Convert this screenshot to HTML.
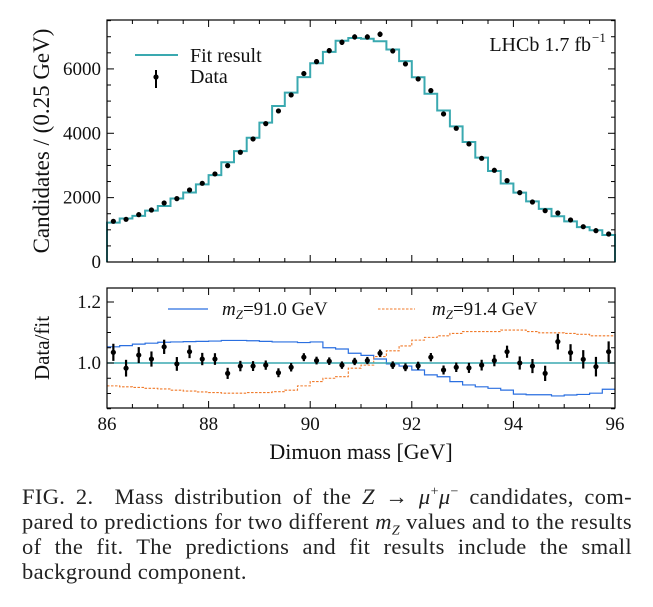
<!DOCTYPE html>
<html><head><meta charset="utf-8"><style>
body{margin:0;background:#fff;width:653px;height:607px;overflow:hidden;font-family:"Liberation Serif",serif;}
#cap{position:absolute;left:22px;top:484px;width:610px;font-size:22.5px;letter-spacing:0.35px;color:#222;}
#cap div{height:25px;line-height:25px;text-align:justify;text-align-last:justify;white-space:nowrap;overflow:visible;}
#cap div.last{text-align-last:left;}
#cap sup,#cap sub{font-size:14px;line-height:0;}
</style></head><body>
<svg id="chart" width="653" height="480" style="position:absolute;left:0;top:0" font-family="Liberation Serif, serif"></svg>
<div id="cap">
<div>FIG. 2.&nbsp; Mass distribution of the <i>Z</i> → <i>μ</i><sup>+</sup><i>μ</i><sup>−</sup> candidates, com-</div>
<div>pared to predictions for two different <i>m<sub>Z</sub></i> values and to the results</div>
<div>of the fit. The predictions and fit results include the small</div>
<div class="last">background component.</div>
</div>
<script>
const counts=[1265,1327,1471,1616,1834,1969,2238,2445,2736,2995,3410,3823,4300,4694,5191,5855,6227,6569,6828,6994,6994,7077,6559,6155,5688,5326,4600,4155,3668,3222,2850,2528,2155,1865,1595,1523,1306,1098,974,870];
const fitValues=[1222,1350,1434,1595,1742,1975,2158,2414,2701,3100,3444,3862,4330,4849,5265,5746,6177,6530,6876,6959,6938,6858,6605,6242,5740,5227,4708,4214,3728,3245,2827,2438,2155,1884,1651,1423,1263,1085,986,839];
const ratio=[1.035,0.983,1.026,1.013,1.053,0.997,1.037,1.013,1.013,0.966,0.990,0.990,0.993,0.968,0.986,1.019,1.008,1.006,0.993,1.005,1.008,1.032,0.993,0.986,0.991,1.019,0.977,0.986,0.984,0.993,1.008,1.037,1.000,0.990,0.966,1.070,1.034,1.012,0.988,1.037];
const ratio910=[1.053,1.057,1.062,1.065,1.068,1.069,1.070,1.071,1.072,1.074,1.074,1.073,1.071,1.069,1.069,1.067,1.069,1.050,1.046,1.032,1.025,1.013,0.997,0.990,0.977,0.961,0.955,0.939,0.928,0.922,0.917,0.911,0.898,0.896,0.896,0.892,0.895,0.897,0.901,0.914];
const ratio914=[0.925,0.922,0.920,0.917,0.915,0.911,0.908,0.905,0.903,0.901,0.901,0.903,0.903,0.906,0.911,0.925,0.939,0.950,0.955,0.983,0.993,1.021,1.040,1.056,1.075,1.084,1.089,1.097,1.103,1.103,1.103,1.108,1.108,1.103,1.099,1.099,1.097,1.094,1.089,1.089];
const xTicks=[86,88,90,92,94,96];
const yTicksTop=[0,2000,4000,6000];
const yTicksBot=["1.0","1.2"];

const svg=document.getElementById('chart');
const NS='http://www.w3.org/2000/svg';
function mk(t,a,p){const e=document.createElementNS(NS,t);for(const k in a)e.setAttribute(k,a[k]);(p||svg).appendChild(e);return e;}
const L=107,R=615,T1=20,B1=262,T2=288,B2=408;
const X=v=>L+(v-86)/10*(R-L);
const Y1=v=>B1-v*(B1-T1)/7520;
const Y2=v=>363-(v-1)*305;
const bw=0.25;
let d='';counts.forEach((c,i)=>{const x0=X(86+i*bw),x1=X(86+(i+1)*bw),y=Y1(fitValues[i]);d+=(i?'L':'M')+x0+' '+y+'L'+x1+' '+y;});
let fp=mk('path',{d:'M'+L+' '+B1+'L'+d.slice(1)+'L'+R+' '+B1,fill:'none',stroke:'#3aa9b0','stroke-width':2});

counts.forEach((c,i)=>{const cx=X(86+(i+0.5)*bw),cy=Y1(c),e=Math.sqrt(c)*(B1-T1)/7520;
 const g=mk('g',{});
 mk('line',{x1:cx,x2:cx,y1:cy-e,y2:cy+e,stroke:'#000','stroke-width':2},g);mk('circle',{cx:cx,cy:cy,r:2.6,fill:'#000'},g);});
function stepPath(arr){let s='';arr.forEach((v,i)=>{s+=(i?'L':'M')+X(86+i*bw)+' '+Y2(v)+'L'+X(86+(i+1)*bw)+' '+Y2(v);});return s;}
let bl=mk('path',{d:stepPath(ratio910),fill:'none',stroke:'#2a6fe0','stroke-width':1.2});

let ol=mk('path',{d:stepPath(ratio914),fill:'none',stroke:'#f07a2a','stroke-width':1.1,'stroke-dasharray':'2.5,1.5'});

let ul=mk('line',{x1:L,x2:R,y1:Y2(1),y2:Y2(1),stroke:'#3aa9b0','stroke-width':1.5});

ratio.forEach((r,i)=>{const cx=X(86+(i+0.5)*bw),cy=Y2(r),e=305/Math.sqrt(counts[i]);
 const g=mk('g',{});
 mk('line',{x1:cx,x2:cx,y1:cy-e,y2:cy+e,stroke:'#000','stroke-width':2.2},g);mk('circle',{cx:cx,cy:cy,r:2.6,fill:'#000'},g);});
[[T1,B1],[T2,B2]].forEach(([t,b],pi)=>{
 const f=mk('rect',{x:L,y:t,width:R-L,height:b-t,fill:'none',stroke:'#000','stroke-width':1.2});
 
 for(let v=86;v<=96.001;v+=0.5){const x=X(v),len=(Math.abs(v-Math.round(v/2)*2)<1e-6)?7:4;
  mk('line',{x1:x,x2:x,y1:b,y2:b-len,stroke:'#000'});mk('line',{x1:x,x2:x,y1:t,y2:t+len,stroke:'#000'});}
});
for(let v=0;v<=7500;v+=500){const y=Y1(v),len=v%2000?4:7;mk('line',{x1:L,x2:L+len,y1:y,y2:y,stroke:'#000'});mk('line',{x1:R,x2:R-len,y1:y,y2:y,stroke:'#000'});}
for(let v=0.85;v<=1.2451;v+=0.05){const y=Y2(v),maj=Math.abs(v-1)<1e-6||Math.abs(v-1.2)<1e-6,len=maj?7:4;mk('line',{x1:L,x2:L+len,y1:y,y2:y,stroke:'#000'});mk('line',{x1:R,x2:R-len,y1:y,y2:y,stroke:'#000'});}
function txt(s,a,name){const e=mk('text',Object.assign({'font-size':19,fill:'#111'},a));e.textContent=s;return e;}
yTicksTop.forEach(v=>txt(String(v),{x:101,y:Y1(v)+6,'text-anchor':'end'},'y-tick-label'));
yTicksBot.forEach(v=>txt(v,{x:101,y:Y2(parseFloat(v))+6,'text-anchor':'end'},'ratio-tick-label'));
xTicks.forEach(v=>txt(String(v),{x:X(v),y:430,'text-anchor':'middle'},'x-tick-label'));
txt('Dimuon mass [GeV]',{x:361,y:459,'text-anchor':'middle','font-size':22},'x-axis-title');
txt('Candidates / (0.25 GeV)',{x:0,y:0,transform:'translate(49,141) rotate(-90)','text-anchor':'middle','font-size':23},'y-axis-title');
txt('Data/fit',{x:0,y:0,transform:'translate(49,348) rotate(-90)','text-anchor':'middle','font-size':21},'ratio-axis-title');
mk('line',{x1:135,x2:178,y1:55,y2:55,stroke:'#3aa9b0','stroke-width':2});
txt('Fit result',{x:190,y:62,'font-size':20},'legend-fit');
mk('line',{x1:156,x2:156,y1:70,y2:88,stroke:'#000','stroke-width':2});mk('circle',{cx:156,cy:77,r:2.6,fill:'#000'});
txt('Data',{x:190,y:83,'font-size':20},'legend-data');
txt('LHCb 1.7 fb',{x:591,y:51,'text-anchor':'end','font-size':20},'lhcb-label');
txt('−1',{x:592,y:42,'font-size':13},'lhcb-exponent');
mk('line',{x1:168,x2:208,y1:309,y2:309,stroke:'#2a6fe0','stroke-width':1.2});
const t1=txt('',{x:222,y:315,'font-size':19},'legend-mz-91.0');t1.innerHTML='<tspan font-style="italic">m</tspan><tspan font-style="italic" font-size="13" dy="4">Z</tspan><tspan dy="-4">=91.0 GeV</tspan>';
mk('line',{x1:378,x2:415,y1:309,y2:309,stroke:'#f07a2a','stroke-width':1.1,'stroke-dasharray':'2.5,1.5'});
const t2=txt('',{x:432,y:315,'font-size':19},'legend-mz-91.4');t2.innerHTML='<tspan font-style="italic">m</tspan><tspan font-style="italic" font-size="13" dy="4">Z</tspan><tspan dy="-4">=91.4 GeV</tspan>';
</script>
</body></html>
